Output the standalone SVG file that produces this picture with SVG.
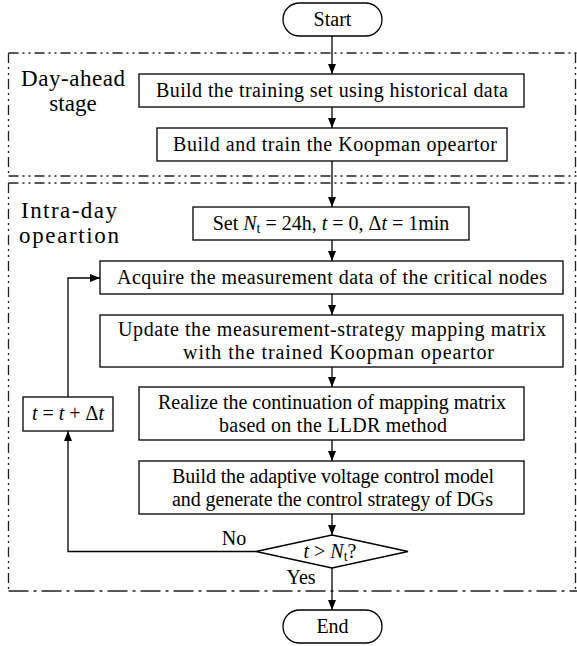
<svg xmlns="http://www.w3.org/2000/svg" width="577" height="646" viewBox="0 0 577 646">
<defs>
<marker id="arr" markerWidth="10" markerHeight="8" refX="10" refY="4" orient="auto" markerUnits="userSpaceOnUse">
<path d="M0,0 L10,4 L0,8 Z" fill="#000"/>
</marker>
<style>
.box{fill:#fff;stroke:#000;stroke-width:1.3}
.t{font-family:"Liberation Serif","Times New Roman",serif;font-size:20px;fill:#000;text-anchor:middle}
.lbl{font-family:"Liberation Serif","Times New Roman",serif;font-size:23px;fill:#000}
.it{font-style:italic}
.ln{fill:none;stroke:#000;stroke-width:1.3}
.dd{fill:none;stroke:#222;stroke-width:1.3;stroke-dasharray:10 4 2 4 2 4}
.dl{fill:none;stroke:#222;stroke-width:1.3;stroke-dasharray:20 5 3 5}
</style>
</defs>
<rect width="577" height="646" fill="#fff"/>
<g id="regions">
<line class="dd" x1="8.5" y1="53" x2="577" y2="53"/>
<line class="dd" x1="8.5" y1="53" x2="8.5" y2="176"/>
<line class="dd" x1="575.5" y1="53" x2="575.5" y2="176"/>
<line class="dd" x1="8.5" y1="176" x2="577" y2="176"/>
<line class="dd" x1="8.5" y1="183" x2="577" y2="183"/>
<line class="dd" x1="8.5" y1="183" x2="8.5" y2="591"/>
<line class="dd" x1="575.5" y1="183" x2="575.5" y2="591"/>
<line class="dl" x1="8.5" y1="591" x2="577" y2="591"/>
<text class="lbl" x="21" y="86" textLength="104" lengthAdjust="spacing">Day-ahead</text>
<text class="lbl" x="73" y="111" text-anchor="middle">stage</text>
<text class="lbl" x="21" y="218" textLength="96" lengthAdjust="spacing">Intra-day</text>
<text class="lbl" x="19" y="243" textLength="100" lengthAdjust="spacing">opeartion</text>
</g>
<g id="connectors">
<line class="ln" x1="332" y1="36" x2="332" y2="74" marker-end="url(#arr)"/>
<line class="ln" x1="332" y1="107" x2="332" y2="128" marker-end="url(#arr)"/>
<line class="ln" x1="332" y1="161" x2="332" y2="207" marker-end="url(#arr)"/>
<line class="ln" x1="332" y1="240" x2="332" y2="261" marker-end="url(#arr)"/>
<line class="ln" x1="332" y1="294" x2="332" y2="315" marker-end="url(#arr)"/>
<line class="ln" x1="332" y1="367" x2="332" y2="387" marker-end="url(#arr)"/>
<line class="ln" x1="332" y1="440" x2="332" y2="461" marker-end="url(#arr)"/>
<line class="ln" x1="332" y1="514" x2="332" y2="535" marker-end="url(#arr)"/>
<line class="ln" x1="332" y1="568" x2="332" y2="610" marker-end="url(#arr)"/>
<polyline class="ln" points="256,551.5 68,551.5 68,431" marker-end="url(#arr)"/>
<polyline class="ln" points="68,397 68,278 100,278" marker-end="url(#arr)"/>
<text class="t" x="234" y="545">No</text>
<text class="t" x="301" y="584">Yes</text>
</g>
<g id="start">
<rect class="box" x="283" y="3" width="99" height="33" rx="16.5"/>
<text class="t" x="332.5" y="26">Start</text>
</g>
<g id="build-training-set">
<rect class="box" x="139" y="74" width="385" height="33"/>
<text class="t" x="332" y="97" textLength="352" lengthAdjust="spacing">Build the training set using historical data</text>
</g>
<g id="build-koopman">
<rect class="box" x="157" y="128" width="350" height="33"/>
<text class="t" x="335" y="151" textLength="324" lengthAdjust="spacing">Build and train the Koopman opeartor</text>
</g>
<g id="set-params">
<rect class="box" x="193" y="207" width="276" height="33"/>
<text class="t" x="331" y="230">Set <tspan class="it">N</tspan><tspan font-size="14" dy="3">t</tspan><tspan dy="-3"> = 24h, </tspan><tspan class="it">t</tspan> = 0, Δ<tspan class="it">t</tspan> = 1min</text>
</g>
<g id="acquire">
<rect class="box" x="100" y="261" width="463" height="33"/>
<text class="t" x="332" y="284" textLength="430" lengthAdjust="spacing">Acquire the measurement data of the critical nodes</text>
</g>
<g id="update">
<rect class="box" x="100" y="315" width="463" height="52"/>
<text class="t" x="332" y="336" textLength="428" lengthAdjust="spacing">Update the measurement-strategy mapping matrix</text>
<text class="t" x="338.5" y="359" textLength="311" lengthAdjust="spacing">with the trained Koopman opeartor</text>
</g>
<g id="realize">
<rect class="box" x="139" y="387" width="385" height="53"/>
<text class="t" x="332" y="409" textLength="348" lengthAdjust="spacing">Realize the continuation of mapping matrix</text>
<text class="t" x="333" y="432" textLength="228" lengthAdjust="spacing">based on the LLDR method</text>
</g>
<g id="build-model">
<rect class="box" x="139" y="461" width="385" height="53"/>
<text class="t" x="333" y="483" textLength="322" lengthAdjust="spacing">Build the adaptive voltage control model</text>
<text class="t" x="332.5" y="506" textLength="321" lengthAdjust="spacing">and generate the control strategy of DGs</text>
</g>
<g id="update-t">
<rect class="box" x="23" y="397" width="90" height="34"/>
<text class="t" x="68" y="420"><tspan class="it">t</tspan> = <tspan class="it">t</tspan> + Δ<tspan class="it">t</tspan></text>
</g>
<g id="decision">
<polygon class="box" points="332,535 408,551.5 332,568 256,551.5"/>
<text class="t" x="330" y="558"><tspan class="it">t</tspan> &gt; <tspan class="it">N</tspan><tspan font-size="14" dy="3">t</tspan><tspan dy="-3">?</tspan></text>
</g>
<g id="end">
<rect class="box" x="283" y="610" width="99" height="33" rx="16.5"/>
<text class="t" x="332.5" y="633">End</text>
</g>
</svg>
